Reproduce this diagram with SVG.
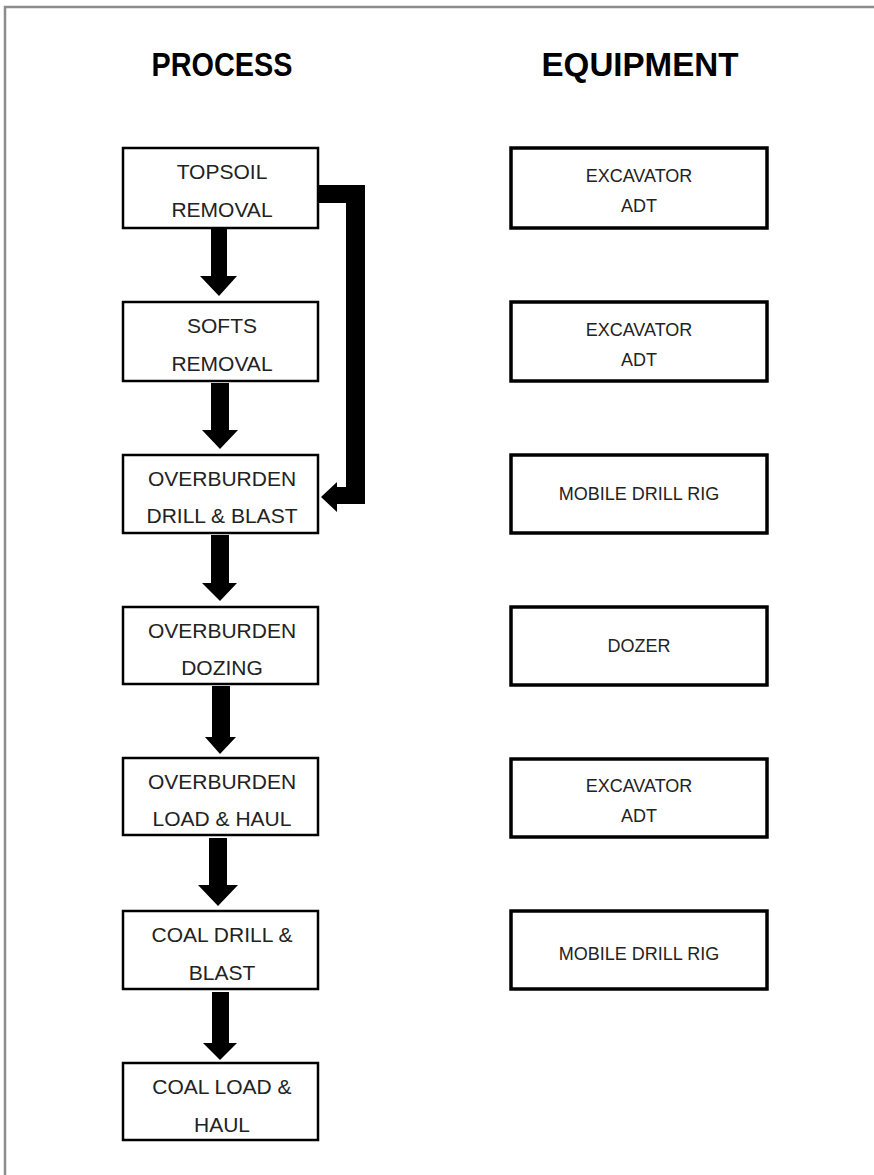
<svg xmlns="http://www.w3.org/2000/svg" width="874" height="1175" viewBox="0 0 874 1175">
<style>
.bg{fill:#ffffff}
.frame{stroke:#8c8c8c;stroke-width:2.5;fill:none}
.hdr{font-family:"Liberation Sans",Arial,sans-serif;font-weight:bold;font-size:34px;fill:#000;text-anchor:middle}
.pbox{fill:#fff;stroke:#000;stroke-width:2.5}
.ebox{fill:#fff;stroke:#000;stroke-width:3.5}
.pt{font-family:"Liberation Sans",Arial,sans-serif;font-size:21px;fill:#222;text-anchor:middle}
.et{font-family:"Liberation Sans",Arial,sans-serif;font-size:18px;fill:#222;text-anchor:middle}
.arr{fill:#000}
</style>
<rect class="bg" x="0" y="0" width="874" height="1175"/>
<path class="frame" d="M5,1175 V7 H874"/>
<text class="hdr" x="222" y="76" textLength="141" lengthAdjust="spacingAndGlyphs">PROCESS</text>
<text class="hdr" x="640" y="76" textLength="197" lengthAdjust="spacingAndGlyphs">EQUIPMENT</text>

<g id="connectors">
<path class="arr" d="M211,229 H227 V276 H237 L219,296 L200,276 H211 Z"/>
<path class="arr" d="M211,383 H229 V430 H238 L220,449 L202,430 H211 Z"/>
<path class="arr" d="M211,535 H229 V583 H237 L220,601 L202,583 H211 Z"/>
<path class="arr" d="M212,686 H230 V737 H236 L220,754 L205,737 H212 Z"/>
<path class="arr" d="M209,838 H227 V885 H238 L218,906 L198,885 H209 Z"/>
<path class="arr" d="M212,992 H229 V1043 H237 L220,1060 L203,1043 H212 Z"/>
<path class="arr" d="M319,185 H365 V504 H337 V512 L321,497 L337,482 V487 H346 V203 H319 Z"/>
</g>

<g id="p1"><rect class="pbox" x="123" y="148" width="195" height="80"/><text class="pt" x="222" y="179">TOPSOIL</text><text class="pt" x="222" y="217">REMOVAL</text></g>
<g id="p2"><rect class="pbox" x="123" y="302" width="195" height="79"/><text class="pt" x="222" y="333">SOFTS</text><text class="pt" x="222" y="371">REMOVAL</text></g>
<g id="p3"><rect class="pbox" x="123" y="455" width="195" height="78"/><text class="pt" x="222" y="486">OVERBURDEN</text><text class="pt" x="222" y="523">DRILL &amp; BLAST</text></g>
<g id="p4"><rect class="pbox" x="123" y="607" width="195" height="77"/><text class="pt" x="222" y="638">OVERBURDEN</text><text class="pt" x="222" y="675">DOZING</text></g>
<g id="p5"><rect class="pbox" x="123" y="758" width="195" height="77"/><text class="pt" x="222" y="789">OVERBURDEN</text><text class="pt" x="222" y="826">LOAD &amp; HAUL</text></g>
<g id="p6"><rect class="pbox" x="123" y="911" width="195" height="78"/><text class="pt" x="222" y="942">COAL DRILL &amp;</text><text class="pt" x="222" y="980">BLAST</text></g>
<g id="p7"><rect class="pbox" x="123" y="1063" width="195" height="77"/><text class="pt" x="222" y="1094">COAL LOAD &amp;</text><text class="pt" x="222" y="1132">HAUL</text></g>

<g id="e1"><rect class="ebox" x="511" y="148" width="256" height="80"/><text class="et" x="639" y="182">EXCAVATOR</text><text class="et" x="639" y="212">ADT</text></g>
<g id="e2"><rect class="ebox" x="511" y="302" width="256" height="79"/><text class="et" x="639" y="336">EXCAVATOR</text><text class="et" x="639" y="366">ADT</text></g>
<g id="e3"><rect class="ebox" x="511" y="455" width="256" height="78"/><text class="et" x="639" y="500">MOBILE DRILL RIG</text></g>
<g id="e4"><rect class="ebox" x="511" y="607" width="256" height="78"/><text class="et" x="639" y="652">DOZER</text></g>
<g id="e5"><rect class="ebox" x="511" y="759" width="256" height="78"/><text class="et" x="639" y="792">EXCAVATOR</text><text class="et" x="639" y="822">ADT</text></g>
<g id="e6"><rect class="ebox" x="511" y="911" width="256" height="78"/><text class="et" x="639" y="960">MOBILE DRILL RIG</text></g>
</svg>
